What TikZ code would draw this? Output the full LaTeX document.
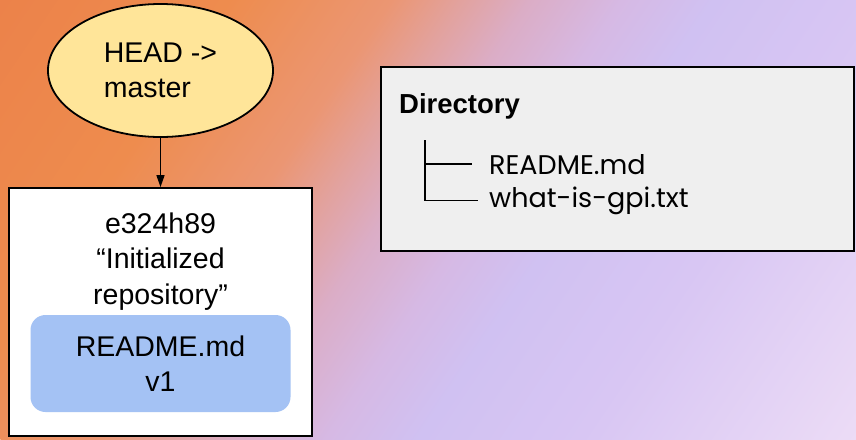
\documentclass[tikz,border=0pt]{standalone}
\usepackage{fontspec}
\setmainfont{Liberation Sans}
\newfontfamily\treefont{Poppins}
\usetikzlibrary{arrows.meta,shapes.geometric}

% background colours, from warm orange to pale lavender
\definecolor{bgA}{RGB}{236,130,74}
\definecolor{bgB}{RGB}{238,140,78}
\definecolor{bgC}{RGB}{235,150,115}
\definecolor{bgD}{RGB}{226,162,158}
\definecolor{bgE}{RGB}{219,173,198}
\definecolor{bgF}{RGB}{214,185,228}
\definecolor{bgG}{RGB}{208,193,242}
\definecolor{bgH}{RGB}{216,198,243}
\definecolor{bgI}{RGB}{236,220,246}
\pgfdeclarehorizontalshading{bgshade}{100bp}{%
  color(0bp)=(bgA); color(25bp)=(bgA); color(35bp)=(bgB);
  color(42bp)=(bgC); color(45bp)=(bgD); color(48bp)=(bgE);
  color(52bp)=(bgF); color(56bp)=(bgG); color(63bp)=(bgH);
  color(75bp)=(bgI); color(100bp)=(bgI)}

\definecolor{headfill}{RGB}{255,229,153}
\definecolor{filefill}{RGB}{164,194,244}
\definecolor{dirfill}{RGB}{239,239,239}

\tikzset{
  txt/.style={font=\fontsize{28.5}{35.5}\selectfont, align=center, inner sep=0pt},
  frame/.style={draw=black, line width=1.8pt},
  treeline/.style={draw=black, line width=1.5pt},
  treetxt/.style={font=\treefont\fontsize{27}{33}\selectfont, inner sep=0pt, anchor=base west},
}

\begin{document}
\begin{tikzpicture}[x=1pt, y=-1pt]
\useasboundingbox (0,0) rectangle (856,439);

% soft diagonal colour wash
\begin{scope}
  \clip (0,0) rectangle (856,439);
  \begin{scope}[transform canvas={rotate around={-34:(428,219.5)}}]
    \shade[shading=bgshade] (-50,-202) rectangle (906,641);
  \end{scope}
\end{scope}

% branch pointer
\node[ellipse, frame, fill=headfill, minimum width=225pt, minimum height=133pt,
      txt, align=left] (head) at (160.5,70.5) {HEAD ->\\master};

% commit box with its message and file
\node[frame, fill=white, minimum width=303pt, minimum height=248pt, inner sep=0pt]
  (commit) at (160.5,312) {};
\node[txt] (msg) at (160.5,261.5) {e324h89\\“Initialized\\repository”};
\node[txt, fill=filefill, rounded corners=15pt, minimum width=260pt, minimum height=97pt]
  (file) at (160.5,363.5) {README.md\\v1};

\draw[line width=1.5pt, -{Triangle[length=12pt,width=8pt]}] (head.south) -- (commit.north);

% working directory listing
\node[frame, fill=dirfill, minimum width=473pt, minimum height=184pt, inner sep=0pt]
  (dir) at (617.5,159) {};
\node[font=\bfseries\fontsize{27.5}{33}\selectfont, inner sep=0pt, anchor=base west]
  (dirtitle) at (399,113) {Directory};
\node[treetxt] (readme) at (489,174) {README.md};
\node[treetxt] (gpi) at (489,207) {what-is-gpi.txt};
\coordinate (treetop) at (425,140);
\draw[treeline, shorten >=11pt] (treetop) |- (treetop |- gpi.west) -- (gpi.west);
\draw[treeline, shorten >=17pt] (treetop |- readme.west) -- (readme.west);
\end{tikzpicture}
\end{document}
